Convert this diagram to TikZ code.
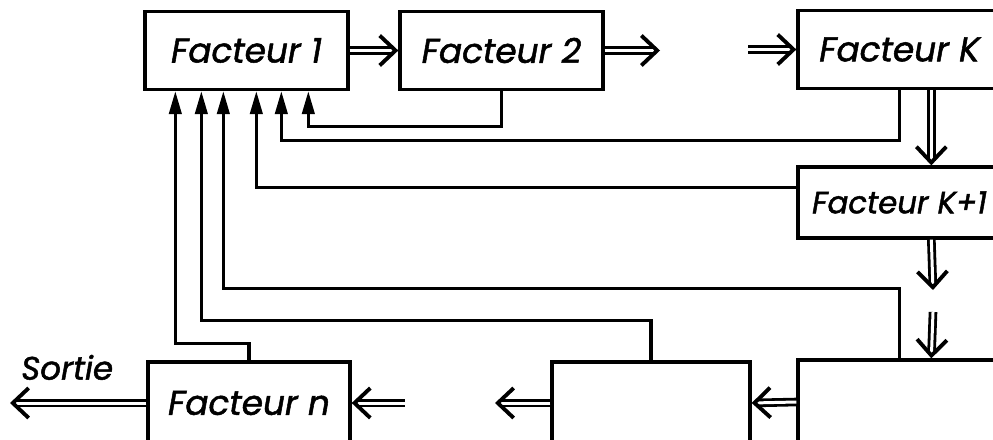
\documentclass[tikz,border=0pt]{standalone}
\usepackage{fontspec}
\setmainfont{Poppins}[ItalicFeatures={FakeBold=1.5}]
\usetikzlibrary{arrows.meta, calc}
\tikzset{
    facteur/.style={
        draw=black,
        line width=1.9pt,
        inner sep=0pt,
        minimum width=40.6mm,
        minimum height=15.6mm,
        font=\fontsize{19.5}{22}\selectfont\itshape
    },
    dbl/.style={
        double,
        double distance=1.7pt,
        line width=1.6pt,
        -{Straight Barb[length=9pt, width=17pt, line width=2.2pt]}
    },
    fb/.style={
        line width=1.8pt,
        -{Triangle[length=13pt, width=7pt]}
    }
}

\begin{document}
\begin{tikzpicture}[x=0.2mm, y=-0.2mm]
            % Frame :
            \useasboundingbox (0,0) rectangle (993,439);
            \clip (0,0) rectangle (993,439);

            % Facteurs
            \node (f1) [facteur] at (246.5,50.5) {Facteur 1};
            \node (f2) [facteur] at (501.5,50.5) {Facteur 2};
            \node (fK) [facteur] at (899.5,49.5) {Facteur K};
            \node (fK1) [
                facteur,
                minimum height=14.2mm,
                font=\fontsize{17.5}{22}\selectfont\itshape
            ] at (899.5,202.5) {Facteur K+1};
            \node (fright) [
                facteur,
                minimum height=16.8mm
            ] at (899.5,402) {};
            \node (fmid) [
                facteur,
                minimum width=39.6mm,
                minimum height=16.4mm
            ] at (651,403) {};
            \node (fn) [
                facteur,
                minimum width=40.4mm,
                minimum height=16.4mm
            ] at (249,403) {Facteur n};

            % Free ends
            \coordinate (f2out) at (660,50.5);
            \coordinate (fKin) at (748,49.5);
            \coordinate (kdown) at (933,290);
            \coordinate (kup) at (933,312);
            \coordinate (midout) at (495,403);
            \coordinate (fnin) at (405,403);
            \coordinate (sortie) at (10,403);

            % Inputs under Facteur 1
            \foreach \i/\x in {1/32, 2/58, 3/80, 4/113, 5/138, 6/165}
                \coordinate (in\i) at ($(f1.south west)+(\x,0)$);

            % Main chain
            \draw [dbl] (f1.east) -- (f2.west);
            \draw [dbl] (f2.east) -- (f2out);
            \draw [dbl] (fKin) -- (fK.west);
            \draw [dbl] ($(fK.south west)+(135,0)$) -- ($(fK1.north west)+(135,0)$);
            \draw [dbl] ($(fK1.south west)+(135,0)$) -- (kdown);
            \draw [dbl] (kup) -- ($(fright.north west)+(135,0)$);
            \draw [dbl] (fright.west) -- (fmid.east);
            \draw [dbl] (fmid.west) -- (midout);
            \draw [dbl] (fnin) -- (fn.east);
            \draw [dbl] (fn.west) -- node [above=9pt, pos=0.58, font=\fontsize{18.5}{22}\selectfont\itshape] {Sortie} (sortie);

            % Feedback
            \draw [fb] (f2.south) -- ++(0,35) -| (in6);
            \draw [fb] (fK.south) -- ++(0,50) -| (in5);
            \draw [fb] ($(fK1.west)+(0,-15)$) -| (in4);
            \draw [fb] (fright.north) -- ++(0,-70) -| (in3);
            \draw [fb] (fmid.north) -- ++(0,-40) -| (in2);
            \draw [fb] (fn.north) -- ++(0,-17) -| (in1);
\end{tikzpicture}
\end{document}
